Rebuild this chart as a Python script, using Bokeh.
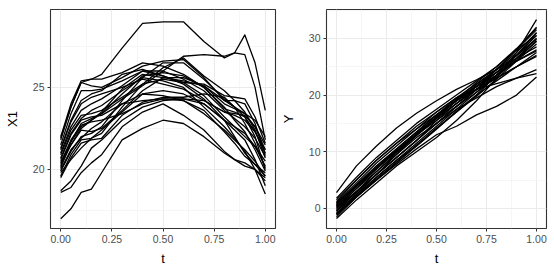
from bokeh.plotting import figure
from bokeh.layouts import row
from bokeh.models import FixedTicker, Range1d, ColumnDataSource
from bokeh.embed import file_html
from bokeh.resources import INLINE

t_x1 = [0.0, 0.05, 0.1, 0.15, 0.2, 0.3, 0.4, 0.5, 0.6, 0.7, 0.8, 0.85, 0.9, 0.95, 1.0]

x1_curves = [
    [21.8, 23.8, 25.3, 25.5, 25.8, 27.4, 28.9, 29.0, 29.0, 27.8, 26.8, 27.1, 28.2, 26.5, 23.6],
    [20.5, 21.5, 22.5, 23.0, 23.4, 24.3, 25.1, 26.0, 26.9, 27.0, 26.9, 27.1, 27.0, 25.0, 21.8],
    [17.0, 17.6, 18.6, 18.8, 19.8, 21.8, 22.5, 23.0, 22.8, 22.0, 21.0, 20.6, 20.4, 20.0, 19.3],
    [18.6, 18.9, 19.8, 20.4, 20.9, 22.6, 23.5, 24.0, 23.3, 22.4, 21.1, 20.6, 20.2, 20.0, 19.5],
    [18.7, 19.3, 20.2, 21.3, 21.8, 23.0, 23.8, 24.2, 24.3, 24.0, 23.0, 22.0, 21.0, 20.3, 19.6],
    [22.0, 24.0, 25.4, 25.5, 25.5, 25.9, 26.5, 26.3, 25.8, 25.0, 23.7, 23.5, 23.2, 22.3, 21.2],
    [21.9, 23.8, 25.3, 25.1, 25.0, 25.6, 26.3, 26.6, 26.7, 25.6, 24.2, 23.8, 23.4, 22.6, 21.5],
    [21.5, 23.4, 24.8, 24.8, 24.9, 25.4, 26.0, 26.0, 25.5, 24.8, 23.6, 23.1, 22.6, 21.9, 20.8],
    [21.2, 22.9, 24.0, 24.4, 24.6, 25.0, 25.5, 25.2, 24.9, 24.2, 23.5, 23.3, 23.0, 22.3, 21.0],
    [20.9, 22.4, 23.3, 23.4, 23.6, 24.4, 25.2, 25.5, 25.3, 24.5, 23.2, 22.6, 22.0, 21.4, 20.5],
    [20.6, 22.1, 23.0, 23.2, 23.3, 24.0, 24.6, 24.8, 24.6, 24.0, 23.0, 22.6, 22.2, 21.4, 20.2],
    [20.4, 21.8, 22.7, 22.9, 23.0, 23.4, 24.0, 24.3, 24.3, 24.2, 23.5, 23.4, 23.3, 22.6, 21.2],
    [20.2, 21.5, 22.4, 22.3, 22.5, 23.6, 24.8, 25.6, 25.4, 25.1, 24.2, 24.2, 24.0, 22.8, 20.9],
    [19.9, 21.1, 22.0, 22.2, 22.6, 24.2, 25.6, 26.5, 26.5, 25.5, 24.3, 23.8, 23.2, 22.0, 20.0],
    [19.6, 20.9, 21.8, 21.9, 22.2, 23.8, 25.2, 26.2, 26.8, 25.7, 24.8, 24.2, 23.5, 22.4, 20.7],
    [19.5, 20.7, 21.6, 21.8, 21.9, 23.3, 24.1, 24.4, 24.4, 24.6, 24.4, 23.8, 22.8, 21.6, 20.1],
    [20.1, 21.7, 22.8, 23.1, 23.4, 24.6, 25.7, 25.9, 25.7, 25.0, 23.8, 23.0, 22.3, 21.2, 19.9],
    [21.0, 22.6, 23.6, 24.0, 24.3, 25.1, 26.0, 25.7, 25.2, 24.3, 23.0, 22.4, 21.8, 20.6, 19.0],
    [20.7, 22.2, 23.1, 23.6, 23.9, 24.8, 25.6, 25.4, 25.0, 23.8, 22.6, 21.9, 21.1, 20.0, 18.5],
    [19.8, 20.6, 21.3, 21.9, 22.4, 23.5, 24.6, 24.5, 24.2, 23.4, 22.4, 21.8, 21.2, 20.5, 19.6],
    [20.3, 21.7, 22.6, 23.0, 23.5, 24.9, 25.8, 25.6, 25.6, 25.1, 24.0, 23.7, 23.4, 23.0, 22.0],
    [21.3, 23.0, 24.2, 24.6, 24.8, 25.8, 26.1, 25.7, 25.3, 25.2, 24.5, 24.4, 24.3, 23.2, 21.6],
    [20.0, 21.2, 21.9, 22.5, 22.9, 24.0, 24.2, 24.3, 24.2, 23.6, 22.3, 21.6, 20.8, 20.3, 19.8],
]

t_y = [0.0, 0.1, 0.2, 0.3, 0.4, 0.5, 0.6, 0.7, 0.8, 0.9, 1.0]

y_curves = [
    [2.8, 7.5, 11.0, 14.2, 16.8, 19.0, 21.0, 22.7, 24.5, 26.5, 28.5],
    [1.8, 5.5, 9.0, 12.0, 15.0, 17.5, 20.0, 22.5, 25.0, 28.0, 30.5],
    [-1.8, 1.5, 4.5, 7.5, 10.0, 12.5, 15.5, 19.0, 23.0, 27.5, 33.3],
    [-1.5, 2.0, 5.0, 7.8, 10.5, 13.0, 14.5, 16.5, 18.0, 20.0, 23.2],
    [-0.5, 3.0, 6.0, 9.0, 12.0, 15.0, 17.5, 19.5, 21.5, 23.0, 24.5],
    [0.0, 3.5, 7.0, 10.0, 13.0, 16.0, 19.0, 21.5, 24.0, 27.0, 30.0],
    [0.5, 4.0, 7.5, 10.5, 13.5, 16.5, 19.0, 21.0, 23.0, 25.0, 27.0],
    [1.0, 4.5, 8.0, 11.0, 14.0, 17.0, 19.5, 21.5, 23.5, 26.0, 28.0],
    [-1.0, 2.5, 5.5, 8.5, 11.0, 14.0, 17.0, 20.0, 23.5, 27.0, 31.0],
    [0.2, 3.0, 6.0, 9.0, 12.0, 15.0, 18.0, 21.0, 24.5, 28.0, 32.0],
    [1.2, 5.0, 8.5, 11.5, 14.5, 17.0, 19.5, 21.0, 22.0, 23.0, 23.8],
    [-0.8, 2.2, 5.5, 8.5, 11.5, 14.5, 17.5, 20.5, 23.5, 26.5, 29.5],
    [0.8, 4.2, 7.5, 10.5, 13.5, 16.5, 19.5, 22.0, 24.5, 27.0, 29.8],
    [-0.3, 2.8, 6.0, 9.5, 13.0, 16.0, 19.0, 21.5, 24.0, 26.0, 27.8],
    [0.3, 3.5, 6.5, 9.8, 12.8, 15.8, 18.5, 21.5, 24.5, 28.0, 31.5],
    [-1.2, 2.0, 5.0, 8.0, 11.0, 14.0, 17.2, 20.0, 22.5, 25.0, 27.5],
    [1.5, 5.0, 8.5, 11.5, 14.0, 16.5, 19.0, 21.8, 24.5, 27.5, 31.0],
    [0.0, 3.0, 6.5, 9.5, 12.5, 15.0, 18.0, 21.0, 24.0, 27.0, 30.5],
    [-0.5, 2.5, 6.0, 9.0, 12.0, 15.5, 18.5, 21.0, 23.0, 25.0, 26.8],
    [1.0, 4.0, 7.0, 10.0, 13.0, 16.0, 18.5, 21.0, 23.5, 26.5, 30.0],
    [0.5, 3.8, 7.0, 10.2, 13.2, 16.2, 19.2, 22.2, 25.0, 28.2, 31.8],
    [-1.0, 2.2, 5.2, 8.2, 11.2, 14.2, 17.0, 19.8, 22.8, 26.0, 29.0],
    [0.6, 4.0, 7.2, 10.2, 13.0, 15.5, 18.0, 20.5, 23.2, 26.2, 29.5],
]

x_ticks = [0.0, 0.25, 0.5, 0.75, 1.0]
x_minor = [0.125, 0.375, 0.625, 0.875]
x_labels = {0.0: "0.00", 0.25: "0.25", 0.5: "0.50", 0.75: "0.75", 1.0: "1.00"}
x1_ticks = [20, 25]
x1_minor = [17.5, 22.5, 27.5]
y_ticks = [0, 10, 20, 30]
y_minor = [-5, 5, 15, 25, 35]

FONT = "Liberation Sans"


def style(p, xt, xm, yt, ym, xlabel, ylabel):
    p.xaxis.ticker = FixedTicker(ticks=xt, minor_ticks=xm)
    p.yaxis.ticker = FixedTicker(ticks=yt, minor_ticks=ym)
    p.xaxis.major_label_overrides = x_labels
    for ax in (p.xaxis[0], p.yaxis[0]):
        ax.axis_line_color = None
        ax.major_tick_line_color = "#333333"
        ax.major_tick_line_width = 1
        ax.major_tick_out = 3
        ax.major_tick_in = 0
        ax.minor_tick_line_color = None
        ax.major_label_text_font = FONT
        ax.major_label_text_font_size = "10.5px"
        ax.major_label_text_color = "#4D4D4D"
        ax.axis_label_text_font = FONT
        ax.axis_label_text_font_size = "13px"
        ax.axis_label_text_font_style = "normal"
        ax.axis_label_text_color = "black"
        ax.major_label_standoff = 2
    p.xaxis.axis_label_standoff = 5
    p.yaxis.axis_label_standoff = 10
    p.xaxis.axis_label = xlabel
    p.yaxis.axis_label = ylabel
    for g in (p.xgrid[0], p.ygrid[0]):
        g.grid_line_color = "#EBEBEB"
        g.grid_line_width = 1.1
        g.minor_grid_line_color = "#F0F0F0"
        g.minor_grid_line_width = 0.6
    p.outline_line_color = "#333333"
    p.outline_line_width = 1.1
    p.background_fill_color = "white"
    p.border_fill_color = "white"


p1 = figure(width=277, height=268, output_backend="svg", toolbar_location=None,
            x_range=Range1d(-0.05, 1.05), y_range=Range1d(16.4, 29.75),
            min_border_left=50, min_border_right=2, min_border_top=9, min_border_bottom=37)
src1 = ColumnDataSource(dict(xs=[t_x1] * len(x1_curves), ys=x1_curves))
p1.multi_line("xs", "ys", source=src1, line_color="black", line_width=1.3, line_join="round")
style(p1, x_ticks, x_minor, x1_ticks, x1_minor, "t", "X1")

p2 = figure(width=275, height=268, output_backend="svg", toolbar_location=None,
            x_range=Range1d(-0.05, 1.05), y_range=Range1d(-3.55, 35.1),
            min_border_left=48, min_border_right=6, min_border_top=9, min_border_bottom=37)
src2 = ColumnDataSource(dict(xs=[t_y] * len(y_curves), ys=y_curves))
p2.multi_line("xs", "ys", source=src2, line_color="black", line_width=1.3, line_join="round")
style(p2, x_ticks, x_minor, y_ticks, y_minor, "t", "Y")

layout = row(p1, p2)
open("out.html", "w").write(file_html(layout, INLINE))
